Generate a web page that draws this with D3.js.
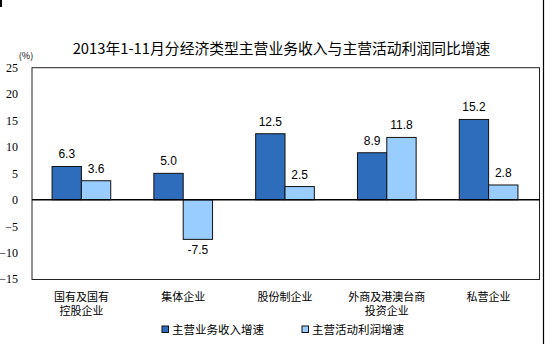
<!DOCTYPE html>
<html>
<head>
<meta charset="utf-8">
<script src="https://cdn.jsdelivr.net/npm/d3@7"></script>
<style>
  html, body { margin: 0; padding: 0; background: #fff; }
  svg { display: block; }
</style>
</head>
<body>
<svg id="chart" width="554" height="344"></svg>
<script>
const categories = [["国有及国有", "控股企业"], ["集体企业"], ["股份制企业"], ["外商及港澳台商", "投资企业"], ["私营企业"]];
const seriesNames = ["主营业务收入增速", "主营活动利润增速"];
const revenueGrowth = [6.3, 5.0, 12.5, 8.9, 15.2];
const profitGrowth = [3.6, -7.5, 2.5, 11.8, 2.8];
const yTicks = [25, 20, 15, 10, 5, 0, -5, -10, -15];
const titleText = "2013年1-11月分经济类型主营业务收入与主营活动利润同比增速";
const unitText = "(%)";

const colors = ["#2e6dbc", "#99ccff"];
const cjk = "'Noto Sans CJK SC', 'Noto Sans', sans-serif";

const svg = d3.select("#chart");
const plot = { left: 32, right: 539.5, top: 67.7, bottom: 279.5 };

const catKeys = categories.map(c => c.join(""));
const x0 = d3.scaleBand().domain(catKeys).range([30.5, 539.5]).padding(0);
const x1 = d3.scaleBand().domain(seriesNames).range([0, x0.bandwidth()]).paddingInner(0).paddingOuter(0.735);
const y = d3.scaleLinear().domain([-15, 25]).range([plot.bottom - 0.5, plot.top]);

// outer border fragments
svg.append("rect").attr("x", 0).attr("y", 0).attr("width", 2).attr("height", 7).attr("fill", "#000");
svg.append("line").attr("x1", 543.5).attr("x2", 543.5).attr("y1", 0).attr("y2", 344)
  .attr("stroke", "#000").attr("stroke-width", 1.2);

// plot frame
svg.append("rect")
  .attr("x", plot.left).attr("y", plot.top)
  .attr("width", plot.right - plot.left).attr("height", plot.bottom - plot.top)
  .attr("fill", "none").attr("stroke", "#222").attr("stroke-width", 1);

// y axis labels
const yAxis = d3.axisLeft(y).tickValues(yTicks).tickSize(0).tickPadding(14);
const yg = svg.append("g").attr("transform", `translate(${plot.left},0)`).call(yAxis);
yg.select(".domain").remove();
yg.selectAll("text").attr("font-family", "'Liberation Serif', 'Times New Roman', serif")
  .attr("font-size", 12).attr("fill", "#000");

// unit
svg.append("text").attr("x", 26).attr("y", 59).attr("text-anchor", "middle")
  .attr("font-family", cjk).attr("font-size", 9).attr("fill", "#000").text(unitText);

// title
svg.append("text").attr("x", 281.5).attr("y", 53.5).attr("text-anchor", "middle")
  .attr("font-family", cjk).attr("font-size", 14.8).attr("fill", "#000").text(titleText);

// bars
const data = catKeys.map((k, i) => ({ key: k, values: [revenueGrowth[i], profitGrowth[i]] }));
const groups = svg.append("g").selectAll("g").data(data).join("g")
  .attr("transform", d => `translate(${x0(d.key)},0)`);

groups.selectAll("rect").data(d => d.values.map((v, j) => ({ v, s: seriesNames[j], j })))
  .join("rect")
  .attr("x", d => x1(d.s))
  .attr("width", x1.bandwidth())
  .attr("y", d => y(Math.max(0, d.v)))
  .attr("height", d => Math.abs(y(d.v) - y(0)))
  .attr("fill", d => colors[d.j])
  .attr("stroke", "#111").attr("stroke-width", 1);

groups.selectAll("text.val").data(d => d.values.map((v, j) => ({ v, s: seriesNames[j], j })))
  .join("text").attr("class", "val")
  .attr("x", d => x1(d.s) + x1.bandwidth() / 2)
  .attr("y", d => d.v >= 0 ? y(d.v) - 8 : y(d.v) + 15)
  .attr("text-anchor", "middle")
  .attr("font-family", "'Liberation Sans', Arial, sans-serif")
  .attr("font-size", 12).attr("fill", "#000")
  .text(d => d.v.toFixed(1));

// zero line
svg.append("line").attr("x1", plot.left).attr("x2", plot.right)
  .attr("y1", y(0)).attr("y2", y(0)).attr("stroke", "#000").attr("stroke-width", 1.6);

// category labels (one text per line)
const catG = svg.append("g");
categories.forEach((lines, i) => {
  const cx = x0(catKeys[i]) + x0.bandwidth() / 2;
  lines.forEach((ln, li) => {
    catG.append("text").attr("text-anchor", "middle")
      .attr("font-family", cjk).attr("font-size", 11).attr("fill", "#000")
      .attr("x", cx).attr("y", 300.5 + li * 14.5).text(ln);
  });
});

// legend
const legendX = [162, 302];
const lg = svg.append("g").selectAll("g").data(seriesNames).join("g")
  .attr("transform", (d, i) => `translate(${legendX[i]},326)`);
lg.append("rect").attr("x", 0).attr("y", 0).attr("width", 6.5).attr("height", 6.5)
  .attr("fill", (d, i) => colors[i]).attr("stroke", "#111").attr("stroke-width", 1);
lg.append("text").attr("x", 10).attr("y", 7.5)
  .attr("font-family", cjk).attr("font-size", 11.5).attr("fill", "#000").text(d => d);
</script>
</body>
</html>
